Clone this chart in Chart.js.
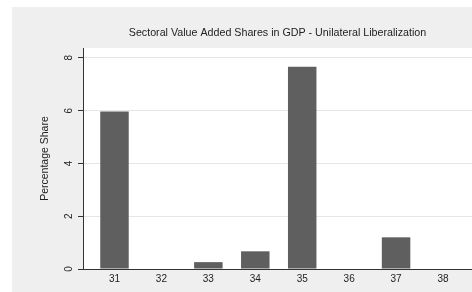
<!DOCTYPE html>
<html>
<head>
<meta charset="utf-8">
<script src="https://cdn.jsdelivr.net/npm/chart.js@4/dist/chart.umd.min.js"></script>
<style>
  html, body { margin: 0; padding: 0; background: #ffffff; }
  #wrap { width: 472px; height: 292px; }
</style>
</head>
<body>
<div id="wrap"><canvas id="c" width="472" height="292"></canvas></div>
<script>
// ---- data ----
const sectors = [31, 32, 33, 34, 35, 36, 37, 38];
const shares = [5.97, 0, 0.26, 0.67, 7.66, 0, 1.2, 0];
const yTicks = [0, 2, 4, 6, 8];
const titleText = 'Sectoral Value Added Shares in GDP - Unilateral Liberalization';
const yTitle = 'Percentage Share';

const FONT = "'Liberation Sans', Arial, sans-serif";

const bgPlugin = {
  id: 'bg',
  beforeDraw(chart) {
    const ctx = chart.ctx, a = chart.chartArea;
    ctx.save();
    ctx.fillStyle = '#efefef';
    ctx.fillRect(12, 7, chart.width - 12, chart.height - 7);
    ctx.fillStyle = '#ffffff';
    ctx.fillRect(a.left, a.top, a.right - a.left, a.bottom - a.top);
    ctx.restore();
  }
};

new Chart(document.getElementById('c'), {
  type: 'bar',
  data: {
    datasets: [{
      data: sectors.map((s, i) => ({ x: s, y: shares[i] })),
      backgroundColor: '#5f5f5f',
      borderWidth: 0,
      categoryPercentage: 1,
      barPercentage: 0.607
    }]
  },
  options: {
    responsive: false,
    animation: false,
    devicePixelRatio: 1,
    layout: { padding: { left: 0, right: 0, top: 0, bottom: 0 } },
    plugins: {
      legend: { display: false },
      tooltip: { enabled: false },
      title: {
        display: true,
        text: titleText,
        fullSize: false,
        color: '#222222',
        font: { family: FONT, size: 10.7, weight: 'normal', lineHeight: 1.2 },
        padding: { top: 26.6, bottom: 8.6 }
      }
    },
    scales: {
      x: {
        type: 'linear',
        offset: false,
        min: 30.329,
        max: 38.618,
        afterBuildTicks(scale) { scale.ticks = sectors.map(v => ({ value: v })); },
        afterFit(scale) { scale.height = 23; },
        grid: { display: false, drawTicks: false, offset: false },
        border: { display: true, color: '#333333', width: 1 },
        ticks: {
          color: '#222222',
          font: { family: FONT, size: 10 },
          padding: 4,
          maxRotation: 0,
          minRotation: 0,
          autoSkip: false
        }
      },
      y: {
        min: 0,
        max: 8.37,
        afterBuildTicks(scale) { scale.ticks = yTicks.map(v => ({ value: v })); },
        afterFit(scale) { scale.width = 83; },
        grid: {
          color: '#e6e6e6',
          lineWidth: 1,
          drawTicks: true,
          tickLength: 5,
          tickColor: '#333333'
        },
        border: { display: true, color: '#333333', width: 1 },
        ticks: {
          color: '#222222',
          font: { family: FONT, size: 10 },
          minRotation: 90,
          maxRotation: 90,
          crossAlign: 'center',
          padding: 5.5
        },
        title: {
          display: true,
          text: yTitle,
          color: '#222222',
          font: { family: FONT, size: 10.5, lineHeight: 1.2 },
          padding: { top: 38.7, bottom: 0 }
        }
      }
    }
  },
  plugins: [bgPlugin]
});
</script>
</body>
</html>
